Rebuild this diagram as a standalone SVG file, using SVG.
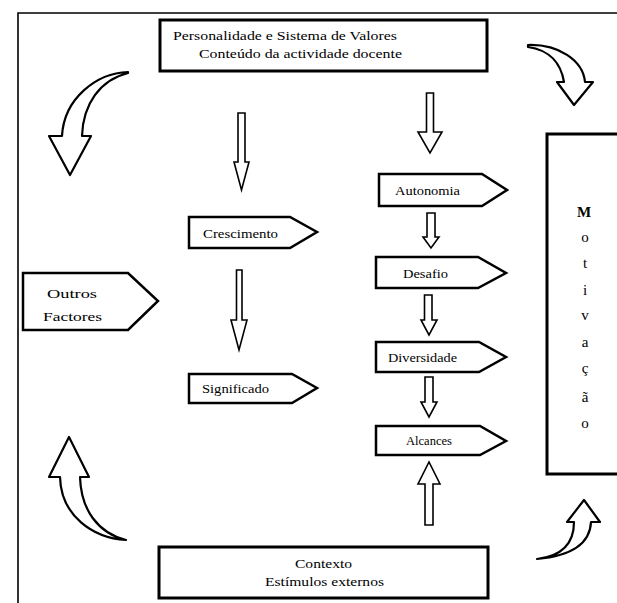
<svg xmlns="http://www.w3.org/2000/svg" width="617" height="603" viewBox="0 0 617 603">
<style>
.t{font-family:"Liberation Serif","Times New Roman",serif;fill:#000;font-size:13px}
.box{fill:#fff;stroke:#000;stroke-width:3}
.tag{fill:#fff;stroke:#000;stroke-width:2.5;stroke-linejoin:miter}
.arr{fill:#fff;stroke:#000;stroke-width:1.6;stroke-linejoin:miter}
.cur{fill:#fff;stroke:#000;stroke-width:2.2;stroke-linejoin:round}
.m{font-family:"Liberation Serif","Times New Roman",serif;font-size:15px;text-anchor:middle}
</style>
<rect width="617" height="603" fill="#fff"/>
<g id="frame">
<path d="M18,603 L18,13 L620,13" fill="none" stroke="#000" stroke-width="1.6"/>
</g>
<g id="top">
<rect class="box" x="160" y="20" width="327" height="51"/>
<text class="t" x="173" y="40" textLength="224" lengthAdjust="spacingAndGlyphs">Personalidade e Sistema de Valores</text>
<text class="t" x="199" y="58" textLength="203" lengthAdjust="spacingAndGlyphs">Conteúdo da actividade docente</text>
</g>
<g id="contexto">
<rect class="box" x="159" y="547" width="329" height="51"/>
<text class="t" x="295" y="568" textLength="57" lengthAdjust="spacingAndGlyphs">Contexto</text>
<text class="t" x="265" y="586" textLength="119" lengthAdjust="spacingAndGlyphs">Estímulos externos</text>
</g>
<g id="motivacao">
<rect class="box" x="547" y="134" width="75" height="340" stroke-width="2.8"/>
<text class="m" x="584" y="217" font-weight="bold" font-size="18">M</text>
<text class="m" x="585" y="242">o</text>
<text class="m" x="585" y="268">t</text>
<text class="m" x="585" y="295">i</text>
<text class="m" x="585" y="320">v</text>
<text class="m" x="585" y="347">a</text>
<text class="m" x="585" y="373">ç</text>
<text class="m" x="585" y="402">ã</text>
<text class="m" x="585" y="428">o</text>
</g>
<g id="outros">
<path class="tag" d="M23,273 L128,273 L158,301 L128,330 L23,330 Z" stroke-width="2"/>
<text class="t" x="47" y="298" textLength="50" lengthAdjust="spacingAndGlyphs" font-size="15">Outros</text>
<text class="t" x="43" y="321" textLength="59" lengthAdjust="spacingAndGlyphs" font-size="15">Factores</text>
</g>
<g id="crescimento">
<path class="tag" d="M189,217 L290,217 L317,232 L290,248 L189,248 Z"/>
<text class="t" x="203" y="238" textLength="75" lengthAdjust="spacingAndGlyphs">Crescimento</text>
</g>
<g id="significado">
<path class="tag" d="M189,374 L292,374 L317,388 L292,403 L189,403 Z"/>
<text class="t" x="202" y="393" textLength="67" lengthAdjust="spacingAndGlyphs">Significado</text>
</g>
<g id="autonomia">
<path class="tag" d="M379,174 L482,174 L507,190 L482,206 L379,206 Z"/>
<text class="t" x="395" y="195" textLength="65" lengthAdjust="spacingAndGlyphs">Autonomia</text>
</g>
<g id="desafio">
<path class="tag" d="M376,257 L478,257 L506,273 L478,288 L376,288 Z"/>
<text class="t" x="403" y="278" textLength="45" lengthAdjust="spacingAndGlyphs">Desafio</text>
</g>
<g id="diversidade">
<path class="tag" d="M376,342 L479,342 L506,357 L479,372 L376,372 Z"/>
<text class="t" x="388" y="362" textLength="69" lengthAdjust="spacingAndGlyphs">Diversidade</text>
</g>
<g id="alcances">
<path class="tag" d="M376,426 L480,426 L506,441 L480,455 L376,455 Z"/>
<text class="t" x="406" y="445" textLength="46" lengthAdjust="spacingAndGlyphs">Alcances</text>
</g>
<g id="connectors">
<path class="cur" d="M128,72 C97,73 64,98 62,136 L49,136 L70,175 L91,136 L82,136 C83,104 100,80 128,73 Z"/>
<path class="cur" d="M528,45 C558,44 583,60 585,82 L593,82 L574,105 L557,82 L564,82 C561,64 550,50 528,47 Z"/>
<path class="cur" d="M126,540 C93,538 61,516 60,477 L49,477 L69,437 L89,477 L80,477 C81,510 98,533 126,540 Z"/>
<path class="cur" d="M537,559 C563,556 574,542 574,522 L567,522 L584,500 L600,522 L591,522 C590,545 570,556 537,559 Z"/>
<path class="arr" d="M238,113 L245,113 L245,162 L249,162 L241.5,190 L234,162 L238,162 Z"/>
<path class="arr" d="M236.5,270 L242,270 L242,320 L247,320 L239,350 L231,320 L236.5,320 Z"/>
<path class="arr" d="M426.5,93 L433.5,93 L433.5,132 L442,132 L430,153 L418,132 L426.5,132 Z"/>
<path class="arr" d="M427,213 L435,213 L435,237 L439,237 L431,248 L423,237 L427,237 Z"/>
<path class="arr" d="M424.5,295 L432,295 L432,320 L437,320 L429,335 L421,320 L424.5,320 Z"/>
<path class="arr" d="M425,377 L433,377 L433,402 L437,402 L429,417 L421,402 L425,402 Z"/>
<path class="arr" d="M425,525 L433,525 L433,484 L440,484 L429,462 L418,484 L425,484 Z"/>
</g>
</svg>
